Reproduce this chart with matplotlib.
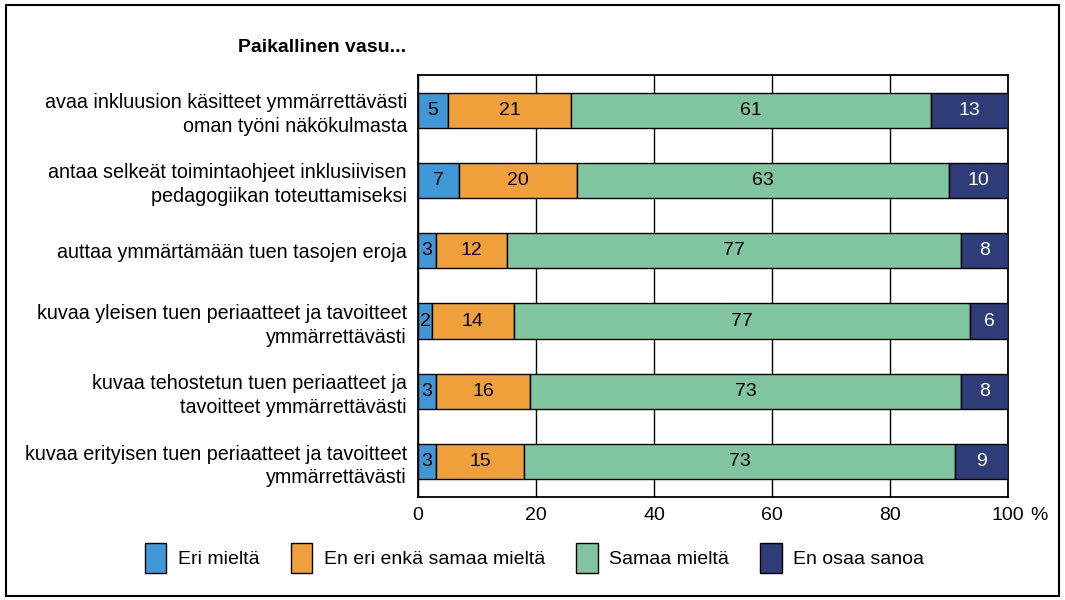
import numpy as np
import matplotlib
matplotlib.use("Agg")
from matplotlib import pyplot as plt
from matplotlib.patches import Rectangle

plt.rcParams['font.family'] = ['Liberation Sans', 'DejaVu Sans']

title = "Paikallinen vasu..."
questions = [
    "avaa inkluusion käsitteet ymmärrettävästi\noman työni näkökulmasta",
    "antaa selkeät toimintaohjeet inklusiivisen\npedagogiikan toteuttamiseksi",
    "auttaa ymmärtämään tuen tasojen eroja",
    "kuvaa yleisen tuen periaatteet ja tavoitteet\nymmärrettävästi",
    "kuvaa tehostetun tuen periaatteet ja\ntavoitteet ymmärrettävästi",
    "kuvaa erityisen tuen periaatteet ja tavoitteet\nymmärrettävästi",
]
series_names = ["Eri mieltä", "En eri enkä samaa mieltä", "Samaa mieltä", "En osaa sanoa"]
eri = [5, 7, 3, 2.4, 3, 3]
neutral = [21, 20, 12, 13.8, 16, 15]
samaa = [61, 63, 77, 77.4, 73, 73]
eos = [13, 10, 8, 6.4, 8, 9]
colors = ["#3f97d6", "#f0a03a", "#80c5a0", "#2e3d78"]
text_colors = ["black", "black", "black", "white"]

fig = plt.figure(figsize=(10.65, 6), dpi=100)
ax = fig.add_axes([0.3925, 0.172, 0.554, 0.703])

y = np.arange(len(questions))
left = np.zeros(len(questions))
for vals, name, col, tcol in zip([eri, neutral, samaa, eos], series_names, colors, text_colors):
    vals = np.array(vals, dtype=float)
    bars = ax.barh(y, vals, left=left, height=0.5, color=col, edgecolor="black",
                   linewidth=1, label=name, zorder=3)
    for b, v in zip(bars, vals):
        ax.text(b.get_x() + b.get_width() / 2, b.get_y() + b.get_height() / 2,
                f"{round(v):d}", ha="center", va="center", fontsize=14, color=tcol, zorder=4)
    left += vals

ax.set_xlim(0, 100)
ax.set_ylim(len(questions) - 0.5, -0.5)
ax.set_xticks([0, 20, 40, 60, 80, 100])
ax.set_xticklabels(["0", "20", "40", "60", "80", "100"], fontsize=14)
ax.text(1.037, -0.023, "%", transform=ax.transAxes, ha="left", va="top", fontsize=14)
ax.set_yticks(y)
ax.set_yticklabels(questions, fontsize=14.2, linespacing=1.3)
ax.tick_params(axis="both", length=0)
ax.tick_params(axis="y", pad=8)
ax.tick_params(axis="x", pad=7)
ax.grid(axis="x", color="black", linewidth=1, zorder=0)
for s in ax.spines.values():
    s.set_linewidth(1.3)

fig.text(0.381, 0.92, title, ha="right", va="center", fontsize=14, fontweight="bold")

fig.legend(loc="center", bbox_to_anchor=(0.502, 0.07), ncol=4, frameon=False, fontsize=14,
           handlelength=1.1, handleheight=2.0, columnspacing=1.6, handletextpad=0.6)

fig.patches.append(Rectangle((0.006, 0.007), 0.988, 0.985, transform=fig.transFigure,
                             fill=False, edgecolor="black", linewidth=1.5))

fig.savefig("out.png", dpi=100)
